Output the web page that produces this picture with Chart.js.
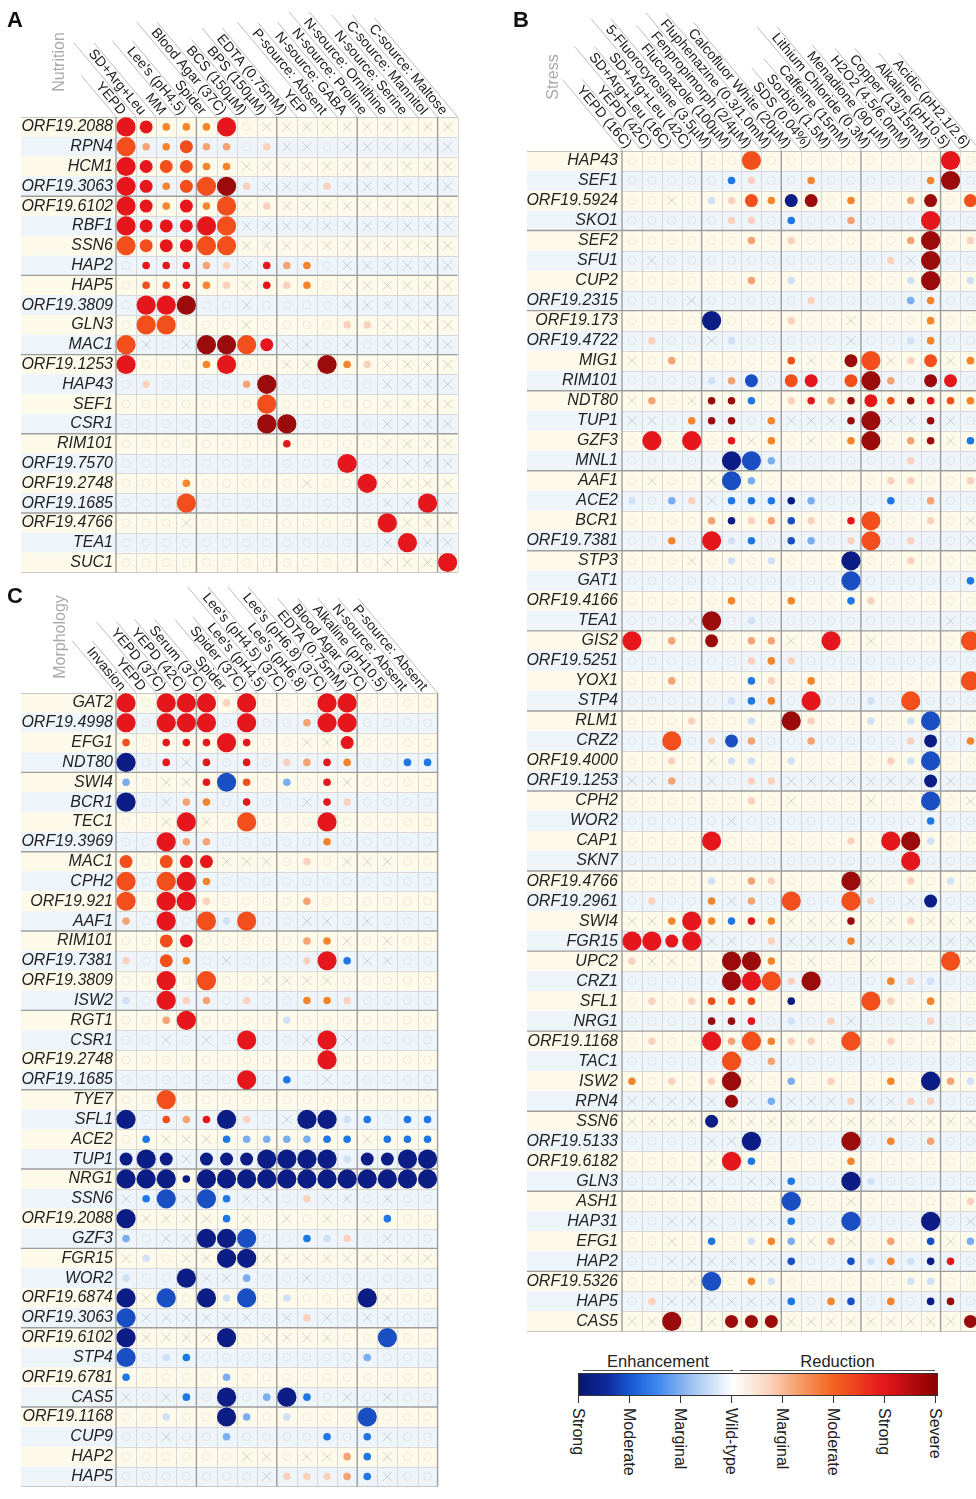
<!DOCTYPE html>
<html><head><meta charset="utf-8">
<script src="https://cdn.jsdelivr.net/npm/chart.js@4.4.1/dist/chart.umd.min.js"></script>
<style>
html,body{margin:0;padding:0;background:#fff;}
#wrap{position:relative;width:976px;height:1499px;overflow:hidden;font-family:"Liberation Sans",Arial,sans-serif;color:#222;}
.abs{position:absolute;}
canvas{position:absolute;}
.letter{position:absolute;font-weight:bold;font-size:22px;line-height:22px;color:#111;}
.side{position:absolute;font-size:16px;color:#a9a9a9;white-space:nowrap;transform:translate(-50%,-50%) rotate(-90deg);}
.vlab{position:absolute;writing-mode:vertical-rl;font-size:16px;line-height:18px;width:18px;white-space:nowrap;color:#222;}
.tick{position:absolute;width:1px;height:7px;background:#333;top:1396px;}
.ttl{position:absolute;top:1352px;height:18px;font-size:16.5px;line-height:18px;text-align:center;border-bottom:1.5px solid #555;}
</style></head>
<body><div id="wrap">
<canvas id="cA" width="470" height="585" style="left:0;top:0"></canvas>
<canvas id="cB" width="480" height="1345" style="left:510px;top:0"></canvas>
<canvas id="cC" width="470" height="914" style="left:0;top:585px"></canvas>
<div class="letter" style="left:7px;top:9px">A</div>
<div class="letter" style="left:513px;top:9px">B</div>
<div class="letter" style="left:7px;top:585px">C</div>
<div class="side" style="left:59px;top:62px">Nutrition</div>
<div class="side" style="left:553px;top:77px">Stress</div>
<div class="side" style="left:60px;top:637px">Morphology</div>
<div id="legend"></div>
</div>
<script>
// ---------------- DATA ----------------
const colsA = ["YEPD","SD+Arg+Leu","MM","Lee's (pH4.5)","Spider","Blood Agar (37C)","BCS (150µM)","BPS (150µM)","EDTA (0.75mM)","YEP","P-source: Absent","N-source: GABA","N-source: Proline","N-source: Ornithine","N-source: Serine","C-source: Mannitol","C-source: Maltose"];
const rowsA = ["ORF19.2088","RPN4","HCM1","ORF19.3063","ORF19.6102","RBF1","SSN6","HAP2","HAP5","ORF19.3809","GLN3","MAC1","ORF19.1253","HAP43","SEF1","CSR1","RIM101","ORF19.7570","ORF19.2748","ORF19.1685","ORF19.4766","TEA1","SUC1"];
// cell codes: "." wild-type, "x" not tested, otherwise <colour level><size S/M/L>
// colour levels: 1..6 reduction (faint -> severe), a..e enhancement (faint -> strong)
const cellsA = [
"5L 5M 3S 3S 3S 5L . x x x x x x x x x x",
"4L 2S 3S 4M 2S 2S . 1S x x . x x x x x x",
"5L 5M 4M 4M 3S 3S x x x x x x x x x x x",
"5L 5M 3S 4M 4L 6L 1S x x x 1S x x x x x x",
"5L 5M 3S 5M 3S 4L x 1S x x x x x x x x x",
"5L 5M 5M 5M 5L 4L x x x x x x x x x x x",
"4L 4M 5M 5M 4L 4L x x x x x x x x x x x",
". 5S 5S 5S 2S 1S x 5S 2S 3S . x x x x x x",
". 4S 4S 5S 3S 1S x 5S 1S 3S . x x x x x x",
". 5L 5L 6L . . x . . . . x x x x x x",
". 4L 4L . . . x . . . . 1S 1S x x x x",
"4L x . x 6L 6L 4L 5M x x . x . x x x x",
"5L . . . 3S 5L . . x x 6L 3S 1S x x x x",
". 1S . . . . 2S 6L . . . . . x x x x",
". . . . . . . 4L . . . . . x x x x",
". . . . . . . 6L 6L . . . . x x x x",
". . . . . . . . 5S . . . . x x x x",
". . . . . . . . . . . 5L . x x x x",
". . . 3S . . . . . x . . 5L x x x x",
". . . 4L . . . . . . . . . x x 5L x",
". . . x . . . . . . . . . 5L x x x",
". . . . . . . . . . . . . x 5L x x",
". . . . . . . . . . . . . x x x 5L"
];

const colsB = ["YEPD (16C)","YEPD (42C)","SD+Arg+Leu (16C)","SD+Arg+Leu (42C)","5-Fluorocytosine (3.5µM)","Fluconazole (100µM)","Fenpropimorph (2/4µM)","Fluphenazine (0.3/1.0mM)","Calcofluor White (20µM)","SDS (0.04%)","Sorbitol (1.5M)","Caffeine (15mM)","Lithium Chloride (0.3M)","Menadione (90 µM)","H2O2 (4.5/6.0mM)","Copper (13/15mM)","Alkaline (pH10.5)","Acidic (pH2.1/2.6)"];
const rowsB = ["HAP43","SEF1","ORF19.5924","SKO1","SEF2","SFU1","CUP2","ORF19.2315","ORF19.173","ORF19.4722","MIG1","RIM101","NDT80","TUP1","GZF3","MNL1","AAF1","ACE2","BCR1","ORF19.7381","STP3","GAT1","ORF19.4166","TEA1","GIS2","ORF19.5251","YOX1","STP4","RLM1","CRZ2","ORF19.4000","ORF19.1253","CPH2","WOR2","CAP1","SKN7","ORF19.4766","ORF19.2961","SWI4","FGR15","UPC2","CRZ1","SFL1","NRG1","ORF19.1168","TAC1","ISW2","RPN4","SSN6","ORF19.5133","ORF19.6182","GLN3","ASH1","HAP31","EFG1","HAP2","ORF19.5326","HAP5","CAS5"];
const cellsB = [
". . . . . . 4L . . . . . . . . . 5L .",
". . . . . cS 1S . . 3S . . . . . 3S 6L .",
". . x . aS 1S 4M 3S eM 6M . 3S . . 2S 6M . 4M",
". . . . . 1S 1S . cS . . 2S . . . 5L . .",
". . . . . . 2S . 1S . . . . . 2S 6L . 1S",
". x . . . . . . . . . . . 1S x 6L . .",
". . . . . . 2S . aS . . . . . aS 6L . aS",
". . . x . . . . . 1S . . . . bS 3S . .",
". . . . eL . . . 1S . . x . . . 3S . .",
". 1S . . x aS . . . . . x . . aS 3S . .",
"x . 2S . . . . . 4S x . 6M 4L x 1S 4M x 3S",
". . . . aS 2S dM . 4M 5M . 4M 6L 2S . 6M 5M .",
"x 2S . x 6S 6S cS . 1S 5S 2S 6S 5M 4S 6S 5S 4S 3S",
"x x . 3S 6S 6S . 3S x x x 6S 6L x x 6S x .",
". 5L . 5L . 5S x 3S . x . 3S 6L . 2S 6S x cS",
". . . . . eL dL bS . . . . . . 1S . . .",
". x . . x dL bS . . . . . . 1S 1S . . 1S",
"aS . bS 1S x cS cS cS eS bS . . . cS . 2S . .",
". . . . 2S eS 1S 2S dS 1S . 5S 4L . . 1S . x",
". . 3S . 5L aS cS . dS bS . 1S 4L . 1S . . x",
". . . x . aS . aS . . . eL . . 1S . . .",
". . . . . . . . . . . dL . . . . . cS",
". . . . . 3S . . 3S . . cS 1S . . . . .",
". . . x 6L . aS . . . . . . . . . x .",
"5L . 2S . 6M . 2S 2S x . 5L . x . . . . 4L",
". . . . . . 1S 3S 1S . . . . . . . . .",
". . 2S . . . cS 1S . 3S . . . . . . . 4L",
". . . . . aS cS 3S . 5L . . aS . 4L . . .",
". . . 1S . . aS . 6L 1S . . aS . aS dL . .",
". . 4L . 1S dM 2S . . 2S . . . . 1S eM . 3S",
". . 1S . x aS aS . aS . . . . 1S aS dL . .",
"x x 2S . x . 1S 1S x x x x x x x eM x .",
". . . . . . 1S . x . . . x . . dL . x",
". . . . . x . . . . . . . . . cS . .",
". . . . 5L . . . . . . 1S . 5L 6L aS . .",
". . . . . . . . . . . . . . 5L . . .",
". . . . aS . 2S 1S . . . 6L x . 1S . aS .",
". 1S . . 3S x 2S . 4L . . 4L 1S . x eM . .",
"x x 3S 5L 3S cS 5S 3S x x x 6S x x 1S x x x",
"5L 5L 5M 5L x x . 1S x x x 3S x x x x x x",
"1S x x . . 6L 6L 3S . x . . x . . . 4L x",
". . . . . 6L 5L 4L 1S 6L . . . 3S 1S aS . .",
". 1S . 1S 4S 4S 4S . eS . . . 4L 1S . 3S . .",
". . . . 6S 6S 5S . aS . 1S x . . . 1S . .",
". 1S . . 5L 2S 4L 3S 1S 1S . 4L . 1S . . . .",
". . . . . 4L . 2S . . . . . . . . . .",
"3S . 1S . 1S 6L x . bS . 1S . . 3S . eL 2S aS",
"x x x x x 6M x bS x x x 1S x x 1S 1S . .",
"x x x x eM x x x x x x x x x x x x x",
". . . . x x eL . . . . 6L . 3S . 2S . .",
". . . . x 5L cS . . . . 3S . . . . . .",
". . x x x . x x cS . . eL aS . . . . .",
". . . . . . . . dL . . x . . . . . 1S",
". . x x x . x x cS . . dL . . . eL . x",
". . x . cS . aS 3S bS x 2S x . 2S . dS x bS",
". . x x x x x x dS . . dS aS 3S aS eS 5S .",
". . . x dL . 3S aS . . . . . . aS aS . .",
". 1S x x x x x x cS . 3S dS . 3S . eS 6S .",
"x x 6L . x 6M 6M 6M x x x x x x x x x 6M"
];

const colsC = ["Invasion","YEPD","YEPD (37C)","YEPD (42C)","Serum (37C)","Spider","Spider (37C)","Lee's (pH4.5)","Lee's (pH4.5) (37C)","Lee's (pH6.8)","Lee's (pH6.8) (37C)","EDTA (0.75mM)","Blood Agar (37C)","Alkaline (pH10.5)","N-source: Absent","P-source: Absent"];
const rowsC = ["GAT2","ORF19.4998","EFG1","NDT80","SWI4","BCR1","TEC1","ORF19.3969","MAC1","CPH2","ORF19.921","AAF1","RIM101","ORF19.7381","ORF19.3809","ISW2","RGT1","CSR1","ORF19.2748","ORF19.1685","TYE7","SFL1","ACE2","TUP1","NRG1","SSN6","ORF19.2088","GZF3","FGR15","WOR2","ORF19.6874","ORF19.3063","ORF19.6102","STP4","ORF19.6781","CAS5","ORF19.1168","CUP9","HAP2","HAP5"];
const cellsC = [
"5L . 5L 5L 5L 1S 5L . . . 5L 5L . . . .",
"5L . 5L 5L 5L . 5L . . 2S 5L 5L . . . .",
"4S . 5S 5S 5S 5L 5S . . x x 5M . . . .",
"eL . 5S x 5S . 5S . 1S 2S 5S 3S . . cS cS",
"bS . x x 5S dL 4S . bS . 5S x . . . .",
"eL . x 2S 3S . 5S . . x 5S 1S . . . .",
". . x 5L x . 4L . . . 5L . . . . .",
". . 5L 2S 2S . . . . . 3S . . . . .",
"4M . 4M 5M 5M x x x . 1S . x x x . .",
"4L . 4L 5L 3S . . . . . . . . . . .",
"4L . 5L 5L 1S . . . . 2S . . . . . .",
"2S . 5L . 4L aS 4L . . x x . x . . .",
". . 4M 5M . . . . . 2S 3S x . x . .",
"1S . 4M 3S . x . . . 1S 5L cS x x . .",
". . 5L . 4L . . x x x x . . . . .",
"aS . 5L 1S 2S . 1S . . 3S 3S 1S . . . .",
". . 2S 5L . . . . aS . . . . . . .",
". . x . x . 5L . . x 5L x . . . .",
". . . . . . . . . . 5L . . . . .",
". . . . . . 5L . cS . x . . . . .",
". . 4L . . . . . . . . . . . . .",
"eL . 4S 2S 5S eL 1S . x eL eL aS cS . cS cS",
". cS x x x cS bS bS bS bS cS cS x cS cS cS",
"eM eL eM x eM eM eM eL eL eL eL aS eM eM eL eL",
"eL eL eL eS eL eL eL eL eL eL eL eL eL eL eL eL",
"x cS dL x dL cS x x . 1S x x . x . .",
"eL x x x x cS x . x . x . x cS . .",
"bS . x x eL eL dL . . cS aS 1S . x . .",
"x aS . x x eL eL x x x x x x x x x",
"aS . . eL x x bS . . x . . . . . .",
"eL x dL . eL aS dL . aS . . . eL x . .",
"dL x x x x x x . x 1S x . x x . .",
"eL x x x x eL . x x x x . . dL . .",
"dL . aS cS . . . . . . . . bS . . .",
"cS . . . . bS . . . . . . . . . .",
"x . x cS . eL . bS eL cS . x . x . .",
". . aS . . eL bS . aS . . . dL . . .",
". . x . . bS . . . . cS . cS x . .",
". . . . . . x x . x x 2S cS x . .",
". . . . . . . x 1S 1S 1S 2S cS x . ."
];

const legendTitles = ["Enhancement","Reduction"];
const legendLabels = ["Strong","Moderate","Marginal","Wild-type","Marginal","Moderate","Strong","Severe"];

// ---------------- STYLE ----------------
const FONT = '"Liberation Sans", Arial, sans-serif';
const SIZE = {S:3.8, M:6.5, L:9.6};
const COLOR = {'1':'#f8d2be','2':'#f4a374','3':'#f3852c','4':'#f24f1c','5':'#e6171c','6':'#9b0b0b',
               'a':'#d0e0f5','b':'#7badef','c':'#1f77e6','d':'#1a4fc4','e':'#0c1d86'};

function parseCells(cells, nc){
  const bub=[], wt=[], xs=[];
  cells.forEach((row, ri) => {
    const t = row.trim().split(/\s+/);
    for (let ci=0; ci<nc; ci++){
      const tok = t[ci] || '.';
      if (tok === '.') wt.push({x:ci+1, y:ri+1});
      else if (tok === 'x') xs.push({x:ci+1, y:ri+1});
      else bub.push({x:ci+1, y:ri+1, r:SIZE[tok[1]], k:tok[0]});
    }
  });
  return {bub, wt, xs};
}

const decor = {
  id:'decor',
  beforeDraw(chart){
    const o = chart.options.plugins.decor;
    const ctx = chart.ctx, ca = chart.chartArea, X = chart.scales.x, Y = chart.scales.y;
    const nr = o.rows.length, nc = o.cols.length;
    ctx.save();
    for (let i=1;i<=nr;i++){
      const y0 = Y.getPixelForValue(i-0.5), y1 = Y.getPixelForValue(i+0.5);
      ctx.fillStyle = (i%2) ? '#fdfaea' : '#edf4fa';
      ctx.fillRect(o.bandLeft, y0, ca.right - o.bandLeft, y1 - y0);
    }
    ctx.strokeStyle = '#d8d8d8'; ctx.lineWidth = 1; ctx.beginPath();
    for (let j=1;j<=nc;j++){ if (j%4===0) continue;
      const x = Math.round(X.getPixelForValue(j+0.5))+0.5; ctx.moveTo(x, ca.top); ctx.lineTo(x, ca.bottom); }
    for (let i=1;i<nr;i++){ if (i%4===0) continue;
      const y = Math.round(Y.getPixelForValue(i+0.5))+0.5; ctx.moveTo(ca.left, y); ctx.lineTo(ca.right, y); }
    ctx.stroke();
    ctx.strokeStyle = '#c6c6c6'; ctx.lineWidth = 1; ctx.beginPath();
    [0, nr].forEach(i => { const y = Math.round(Y.getPixelForValue(i+0.5))+0.5; ctx.moveTo(o.bandLeft, y); ctx.lineTo(ca.right, y); });
    ctx.stroke();
    ctx.strokeStyle = '#9d9d9d'; ctx.lineWidth = 1.4; ctx.beginPath();
    for (let j=0;j<=nc;j+=4){ const x = X.getPixelForValue(j+0.5); ctx.moveTo(x, ca.top); ctx.lineTo(x, ca.bottom); }
    for (let i=4;i<nr;i+=4){ const y = Y.getPixelForValue(i+0.5); ctx.moveTo(o.bandLeft, y); ctx.lineTo(ca.right, y); }
    ctx.stroke();
    // header
    const th = 50*Math.PI/180, ux = Math.cos(th), uy = Math.sin(th);
    ctx.font = '14px ' + FONT;
    const w = o.cols.map(c => ctx.measureText(c).width);
    ctx.strokeStyle = '#bcbcbc'; ctx.lineWidth = 1; ctx.beginPath();
    for (let j=0;j<=nc;j++){
      const L = Math.max(w[Math.max(j-1,0)], w[Math.min(j,nc-1)]) + 16;
      const x = X.getPixelForValue(j+0.5);
      ctx.moveTo(x, ca.top); ctx.lineTo(x - ux*L, ca.top - uy*L);
    }
    ctx.stroke();
    ctx.fillStyle = '#222'; ctx.textAlign = 'right'; ctx.textBaseline = 'middle';
    o.cols.forEach((c, i) => {
      const xc = X.getPixelForValue(i+1);
      ctx.save(); ctx.translate(xc - ux*5, ca.top - uy*5); ctx.rotate(th); ctx.fillText(c, 0, 0); ctx.restore();
    });
    ctx.restore();
  }
};

function makePanel(id, cols, rows, cells, g){
  const nc = cols.length, nr = rows.length;
  const d = parseCells(cells, nc);
  const cv = document.getElementById(id);
  const W = cv.width, H = cv.height;
  return new Chart(cv, {
    type:'bubble',
    data:{datasets:[
      {data:d.bub, order:0, borderWidth:0, hoverBorderWidth:0, hoverRadius:0,
       backgroundColor: c => (c.raw && COLOR[c.raw.k]) || 'rgba(0,0,0,0)'},
      {data:d.xs, order:1, radius:6.5, hoverRadius:0, pointStyle:'crossRot', borderWidth:1,
       borderColor:'rgba(105,105,105,0.27)', backgroundColor:'rgba(0,0,0,0)'},
      {data:d.wt, order:2, radius:4, hoverRadius:0, pointStyle:'circle', borderWidth:1,
       borderColor:'rgba(140,135,110,0.14)', backgroundColor:'rgba(0,0,0,0)'}
    ]},
    options:{
      responsive:false, animation:false, events:[], devicePixelRatio:1,
      layout:{padding:{left:0, top:g.top, right:W - g.left - nc*g.cw, bottom:H - g.top - nr*g.ch}},
      plugins:{legend:{display:false}, tooltip:{enabled:false}, decor:{cols, rows, bandLeft:g.bandLeft}},
      scales:{
        x:{type:'linear', min:0.5, max:nc+0.5, display:false},
        y:{type:'linear', min:0.5, max:nr+0.5, reverse:true,
           afterFit: s => { s.width = g.left; },
           afterBuildTicks: s => { s.ticks = rows.map((_, i) => ({value:i+1})); },
           grid:{display:false, drawTicks:false}, border:{display:false},
           ticks:{autoSkip:false, padding:g.pad, color:'#222',
                  font:{family:FONT, size:16, style:'italic'},
                  callback: v => rows[Math.round(v)-1]}}
      }
    },
    plugins:[decor]
  });
}

makePanel('cA', colsA, rowsA, cellsA, {left:116, top:117, cw:20.1, ch:20.13, bandLeft:21, pad:3});
makePanel('cB', colsB, rowsB, cellsB, {left:112, top:150.5, cw:20.2, ch:20.13, bandLeft:17, pad:4});
makePanel('cC', colsC, rowsC, cellsC, {left:116, top:108, cw:20.1, ch:20.13, bandLeft:21, pad:3});

// ---------------- LEGEND (colour bar) ----------------
(function(){
  const lg = document.getElementById('legend');
  const x0 = 578, x1 = 935, step = (x1 - x0)/(legendLabels.length-1);
  let h = '';
  h += '<div class="ttl" style="left:583px;width:150px">'+legendTitles[0]+'</div>';
  h += '<div class="ttl" style="left:740px;width:195px">'+legendTitles[1]+'</div>';
  h += '<div class="abs" style="left:578px;top:1373px;width:360px;height:23px;box-sizing:border-box;border:1px solid #333;'+
       'background:linear-gradient(to right,#0a1670 0%,#0d2b9e 8%,#1a5cd9 15%,#3f88ee 22%,#a3c6f3 32%,#ffffff 43%,#fbd5c0 53%,#f6a06e 61%,#f3641f 71%,#e6171c 85%,#8a0000 100%)"></div>';
  legendLabels.forEach((t, i) => {
    const x = x0 + i*step;
    h += '<div class="tick" style="left:'+(x-0.5)+'px"></div>';
    h += '<div class="vlab" style="left:'+(x-9)+'px;top:1408px">'+t+'</div>';
  });
  lg.innerHTML = h;
})();
</script>
</body></html>
